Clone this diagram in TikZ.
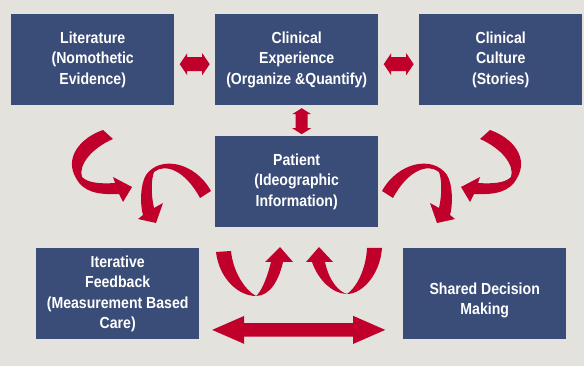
\documentclass[tikz,border=0pt]{standalone}
\usepackage{fontspec}
\setmainfont{Liberation Sans}[FakeStretch=0.88]
\usetikzlibrary{calc}
\definecolor{bg}{HTML}{E3E2DD}
\definecolor{boxblue}{HTML}{3A4D79}
\definecolor{arrowred}{HTML}{C0002A}
\tikzset{
  boxtext/.style={text=white, font=\fontsize{16}{20.5}\selectfont\bfseries, align=center},
  box/.style={boxtext, fill=boxblue, minimum width=163pt, minimum height=91pt,
    inner sep=0pt, anchor=north west},
  ribbon/.style={fill=arrowred},
  % straight double-headed block arrow: half length, shaft half width, head half width, head length
  pics/dblarrow/.style n args={4}{code={
    \fill[arrowred] (-#1,0) -- (-#1+#4,-#3) -- (-#1+#4,-#2) -- (#1-#4,-#2) -- (#1-#4,-#3)
      -- (#1,0) -- (#1-#4,#3) -- (#1-#4,#2) -- (-#1+#4,#2) -- (-#1+#4,#3) -- cycle;}}
}
\begin{document}
\begin{tikzpicture}[x=1pt,y=-1pt]
\fill[bg] (0,0) rectangle (584,366);
\useasboundingbox (0,0) rectangle (584,366);

% boxes
\node[box] (lit) at (11,14)  {Literature\\(Nomothetic\\Evidence)};
\node[box] (exp) at (215,14) {Clinical\\Experience\\(Organize \&Quantify)};
\node[box] (cul) at (419,14) {Clinical\\Culture\\(Stories)};
\node[box] (pat) at (215,136) {Patient\\(Ideographic\\Information)};
\node[box] (ite) at (36,248) {Iterative\\Feedback\\(Measurement Based\\Care)};
\node[box] (sdm) at (403,248) {};
\node[boxtext] (sdmtext) at ($(sdm.center)+(0,6.5)$) {Shared Decision\\Making};

% straight double arrows
\pic at ($(lit.east)!0.5!(exp.west)+(0,4.5)$) {dblarrow={15}{7}{11}{7.5}};
\pic at ($(exp.east)!0.5!(cul.west)+(0,4.5)$) {dblarrow={15}{7}{11}{7.5}};
\pic[rotate=90] at ($(exp.south)!0.5!(pat.north)+(5,0.5)$) {dblarrow={13}{6}{9.5}{6}};
\pic at ($(ite.south east)!0.5!(sdm.south west)+(-2.5,-9.5)$) {dblarrow={86.5}{6.8}{14}{32}};

% curled ribbon arrows, left side (mirrored on the right)
\foreach \mir/\sh in {1/0pt,-1/593pt}{
\begin{scope}[xshift=\sh, xscale=\mir]
  % from the literature towards the feedback loop
  \fill[ribbon] (103,130) .. controls (80,138) and (64,158) .. (76,178)
     .. controls (83,192) and (98,195) .. (119,194)
     -- (123,202) -- (132,187) -- (113,177) -- (115,183)
     .. controls (100,184) and (88,183) .. (82,177)
     .. controls (78,165) and (92,148) .. (113,139) -- cycle;
  % from the patient curling down
  \fill[ribbon] (211,191) .. controls (195,162) and (160,155) .. (146,175)
     .. controls (140,185) and (140,205) .. (143,215)
     -- (138,219) -- (156,223) -- (163,203) -- (154,208)
     .. controls (151,195) and (151,180) .. (154,172)
     .. controls (165,163) and (185,170) .. (200,198) -- cycle;
\end{scope}}

% U-shaped ribbon arrows rising into the patient box
\fill[ribbon] (216,252) .. controls (219,278) and (238,296) .. (256,296)
   .. controls (270,296) and (279,280) .. (283,262)
   -- (293,262) -- (280,247) -- (265,262) -- (271,262)
   .. controls (266,282) and (260,293) .. (256,296)
   .. controls (245,290) and (233,272) .. (231,251) -- cycle;
\fill[ribbon] (382,248) .. controls (380,275) and (362,294) .. (347,294)
   .. controls (333,294) and (318,280) .. (312,262)
   -- (306,262) -- (319,247) -- (333,262) -- (325,262)
   .. controls (329,281) and (339,292) .. (347,294)
   .. controls (356,288) and (366,270) .. (367,248) -- cycle;
\end{tikzpicture}
\end{document}
